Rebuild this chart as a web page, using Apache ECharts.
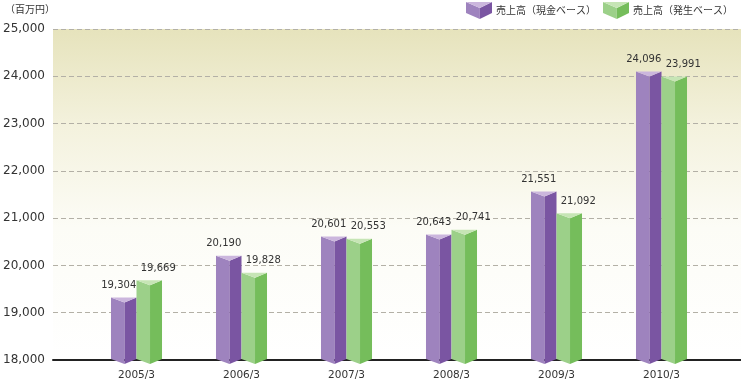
<!DOCTYPE html>
<html>
<head>
<meta charset="utf-8">
<script src="https://cdn.jsdelivr.net/npm/echarts@6/dist/echarts.min.js"></script>
<style>
html,body{margin:0;padding:0;background:#fff;}
#chart{width:741px;height:381px;}
</style>
</head>
<body>
<div id="chart"></div>
<script>
// ---- data ----
const categories = ['2005/3', '2006/3', '2007/3', '2008/3', '2009/3', '2010/3'];
const cashBasis = [19304, 20190, 20601, 20643, 21551, 24096];
const accrualBasis = [19669, 19828, 20553, 20741, 21092, 23991];
const seriesNames = ['売上高（現金ベース）', '売上高（発生ベース）'];
const unitLabel = '（百万円）';
const yMin = 18000, yMax = 25000, yStep = 1000;

// ---- styles ----
const FONT = 'DejaVu Sans';
const CJK = 'Noto Sans CJK JP';
const purple = {left: '#9e83be', right: '#7a55a2', top: '#cbb6dd'};
const green = {left: '#9cd089', right: '#75bd5b', top: '#c6e5b5'};

function fmt(v) { return String(v).replace(/\B(?=(\d{3})+(?!\d))/g, ','); }

function prism(xl, w, yt, yb, d, c) {
  const xr = xl + w, xf = xl + w * 0.53;
  return [
    {type: 'polygon', shape: {points: [[xl, yt], [xf, yt + d], [xf, yb + d], [xl, yb]]}, style: {fill: c.left}},
    {type: 'polygon', shape: {points: [[xf, yt + d], [xr, yt], [xr, yb], [xf, yb + d]]}, style: {fill: c.right}},
    {type: 'polygon', shape: {points: [[xl, yt], [xr, yt], [xf, yt + d]]}, style: {fill: c.top}}
  ];
}

function makeRender(colors, side, labelDx) {
  return function (params, api) {
    const cat = api.value(0), val = api.value(1);
    const top = api.coord([cat, val]);
    const base = api.coord([cat, yMin]);
    const band = api.size([1, 0])[0];
    const w = band * 0.243;
    const xl = side === 0 ? top[0] - w : top[0];
    const children = prism(xl, w, top[1], base[1], 5, colors);
    children.push({
      type: 'text',
      style: {
        text: fmt(val), x: xl + w / 2 + labelDx, y: top[1] - 7,
        align: 'center', verticalAlign: 'bottom',
        font: '10px "' + FONT + '"', fill: '#333'
      }
    });
    return {type: 'group', children: children};
  };
}

function legendIcon(x, y, c) {
  return {type: 'group', children: prism(x, 26, y, y + 11, 6, c)};
}

const chart = echarts.init(document.getElementById('chart'), null, {renderer: 'canvas'});
chart.setOption({
  animation: false,
  backgroundColor: '#fff',
  grid: [
    {left: 53, right: 0, top: 29, bottom: 21, show: true, borderWidth: 0,
     backgroundColor: new echarts.graphic.LinearGradient(0, 0, 0, 1, [
       {offset: 0, color: '#e6e3bc'},
       {offset: 0.3, color: '#f4f2de'},
       {offset: 0.6, color: '#fcfcf6'},
       {offset: 1, color: '#ffffff'}
     ])},
    {left: 84, width: 630, top: 29, bottom: 21}
  ],
  xAxis: [
    {gridIndex: 0, type: 'value', min: 0, max: 1, axisLabel: {show: false}, axisTick: {show: false},
     splitLine: {show: false}, axisLine: {show: true, onZero: false, lineStyle: {color: '#222', width: 2}}},
    {gridIndex: 1, type: 'category', data: categories, axisLine: {show: false}, axisTick: {show: false},
     axisLabel: {margin: 11, fontFamily: FONT, fontSize: 10.5, color: '#333'}}
  ],
  yAxis: [
    {gridIndex: 0, type: 'value', min: yMin, max: yMax, interval: yStep,
     axisLine: {show: false}, axisTick: {show: false},
     axisLabel: {margin: 8, fontFamily: FONT, fontSize: 12, color: '#333', formatter: fmt},
     splitLine: {show: true, lineStyle: {color: '#b3b0a6', type: [5, 3], width: 1}}},
    {gridIndex: 1, type: 'value', min: yMin, max: yMax, interval: yStep, show: false, splitLine: {show: false}}
  ],
  graphic: [
    {type: 'text', left: 5, top: 4, style: {text: unitLabel, font: '10px "' + CJK + '"', fill: '#333'}},
    legendIcon(466, 2, purple),
    {type: 'text', x: 496, y: 10, style: {text: seriesNames[0], font: '10px "' + CJK + '"', fill: '#333', verticalAlign: 'middle'}},
    legendIcon(603, 2, green),
    {type: 'text', x: 633, y: 10, style: {text: seriesNames[1], font: '10px "' + CJK + '"', fill: '#333', verticalAlign: 'middle'}}
  ],
  series: [
    {name: seriesNames[0], type: 'custom', xAxisIndex: 1, yAxisIndex: 1, z: 5,
     renderItem: makeRender(purple, 0, -5), data: cashBasis.map((v, i) => [i, v])},
    {name: seriesNames[1], type: 'custom', xAxisIndex: 1, yAxisIndex: 1, z: 5,
     renderItem: makeRender(green, 1, 9), data: accrualBasis.map((v, i) => [i, v])}
  ]
});
</script>
</body>
</html>
